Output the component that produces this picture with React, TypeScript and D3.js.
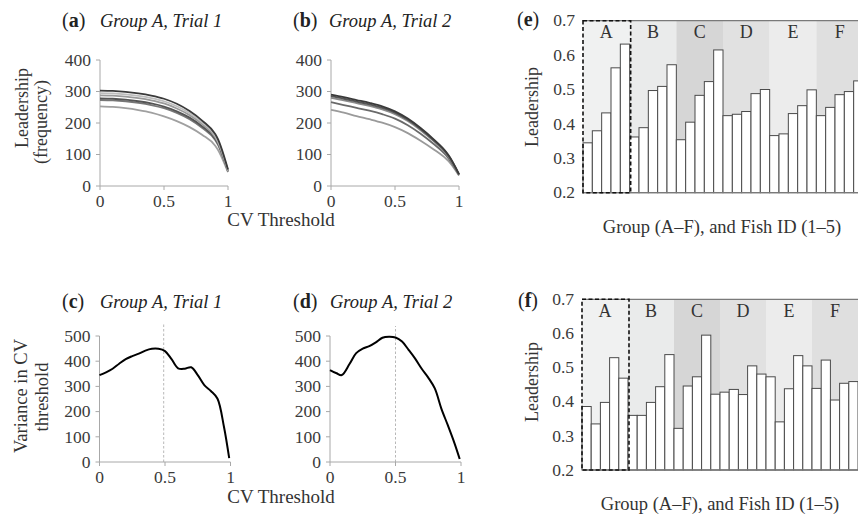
import React from 'react';
import * as d3 from 'd3';

const FONT = '"Liberation Serif", "Times New Roman", serif';

// ---------- Panels (a) & (b): leadership frequency vs CV threshold ----------
const cvT = [0, 0.1, 0.2, 0.3, 0.4, 0.5, 0.6, 0.7, 0.8, 0.9, 0.92, 1];
const a_f1 = [303, 302, 299, 294, 287, 277, 261, 238, 207, 165, 150, 52];
const a_f2 = [295, 294, 291, 286, 279, 269, 253, 231, 201, 160, 145, 50];
const a_f3 = [288, 287, 284, 279, 272, 262, 246, 225, 196, 155, 140, 48];
const a_f4 = [278, 277, 274, 269, 262, 252, 237, 217, 189, 150, 136, 48];
const a_f5 = [273, 272, 269, 264, 257, 247, 232, 212, 184, 146, 132, 46];
const a_f6 = [253, 251, 247, 241, 233, 221, 206, 187, 162, 128, 116, 44];
const b_f1 = [290, 282, 273, 264, 253, 237, 214, 184, 149, 108, 97, 38];
const b_f2 = [285, 277, 268, 259, 248, 233, 210, 181, 146, 106, 95, 37];
const b_f3 = [280, 272, 263, 254, 243, 228, 206, 177, 143, 103, 92, 36];
const b_f4 = [266, 257, 248, 239, 228, 214, 193, 166, 134, 97, 87, 35];
const b_f5 = [242, 233, 222, 212, 201, 187, 168, 144, 117, 86, 78, 33];
const lineColorsA = ['#3a3a3a', '#bdbdbd', '#9a9a9a', '#555555', '#777777', '#a0a0a0'];
const lineColorsB = ['#3a3a3a', '#555555', '#8a8a8a', '#6a6a6a', '#9a9a9a'];
const freqTicks = [0, 100, 200, 300, 400];
const cvTicks = [0, 0.5, 1];

// ---------- Panels (c) & (d): variance in CV threshold ----------
const c_t = [0, 0.05, 0.1, 0.15, 0.2, 0.25, 0.3, 0.35, 0.4, 0.45, 0.5, 0.55, 0.6, 0.65, 0.7, 0.75, 0.8, 0.85, 0.9, 0.95, 0.99];
const c_var = [345, 356, 370, 390, 408, 420, 430, 442, 449, 449, 440, 408, 372, 370, 376, 345, 305, 282, 252, 140, 15];
const d_t = [0, 0.05, 0.09, 0.15, 0.2, 0.25, 0.3, 0.35, 0.4, 0.45, 0.5, 0.55, 0.6, 0.65, 0.7, 0.75, 0.8, 0.85, 0.9, 0.95, 0.99];
const d_var = [365, 352, 345, 390, 432, 450, 460, 475, 493, 497, 494, 478, 445, 410, 370, 335, 292, 212, 145, 75, 12];
const varTicks = [0, 100, 200, 300, 400, 500];
const c_mark = 0.49;
const d_mark = 0.5;

// ---------- Panels (e) & (f): leadership per fish ----------
const groups = ['A', 'B', 'C', 'D', 'E', 'F'];
const fishIds = [1, 2, 3, 4, 5];
const groupShades = ['#f0f1f1', '#eaebeb', '#d6d6d6', '#e1e1e1', '#ececec', '#dfdfdf'];
const e_vals = [
  0.345, 0.380, 0.432, 0.563, 0.632,
  0.362, 0.389, 0.497, 0.509, 0.572,
  0.354, 0.405, 0.483, 0.523, 0.615,
  0.424, 0.428, 0.436, 0.488, 0.500,
  0.366, 0.371, 0.430, 0.453, 0.499,
  0.424, 0.448, 0.485, 0.494, 0.525,
];
const f_vals = [
  0.386, 0.335, 0.398, 0.529, 0.469,
  0.360, 0.360, 0.398, 0.444, 0.538,
  0.322, 0.446, 0.473, 0.595, 0.422,
  0.428, 0.436, 0.421, 0.505, 0.481,
  0.473, 0.341, 0.438, 0.535, 0.505,
  0.439, 0.522, 0.405, 0.454, 0.459,
];
const barTicks = [0.2, 0.3, 0.4, 0.5, 0.6, 0.7];

type Series = { t: number[]; v: number[]; color: string; width: number };

function LinePanel(props: {
  left: number; right: number; top: number; bottom: number;
  yMax: number; yTicks: number[]; series: Series[]; curve: any; mark?: number; markTop?: number;
}) {
  const { left, right, top, bottom, yMax, yTicks, series, curve, mark, markTop } = props;
  const x = d3.scaleLinear().domain([0, 1]).range([left, right]);
  const y = d3.scaleLinear().domain([0, yMax]).range([bottom, top]);
  const axisColor = '#a8a8a8';
  return (
    <g>
      {mark !== undefined && (
        <line x1={x(mark)} x2={x(mark)} y1={bottom} y2={markTop} stroke="#b0b0b0" strokeWidth={0.9} strokeDasharray="2.5,2" />
      )}
      <line x1={left} x2={left} y1={top} y2={bottom} stroke={axisColor} strokeWidth={1} />
      <line x1={left} x2={right} y1={bottom} y2={bottom} stroke={axisColor} strokeWidth={1} />
      {yTicks.map((t) => (
        <g key={'y' + t}>
          <line x1={left - 4} x2={left} y1={y(t)} y2={y(t)} stroke={axisColor} />
          <text x={left - 9} y={y(t)} dy="0.33em" textAnchor="end" fontSize={17.5} fill="#3a3a3a">{t}</text>
        </g>
      ))}
      {cvTicks.map((t) => (
        <g key={'x' + t}>
          <line x1={x(t)} x2={x(t)} y1={bottom} y2={bottom + 4} stroke={axisColor} />
          <text x={x(t)} y={bottom + 21} textAnchor="middle" fontSize={17.5} fill="#3a3a3a">{t}</text>
        </g>
      ))}
      {series.map((s, i) => {
        const pts: [number, number][] = s.t.map((t, j) => [t, s.v[j]]);
        const gen = d3.line<[number, number]>().x((d) => x(d[0])).y((d) => y(d[1])).curve(curve);
        return <path key={i} d={gen(pts) || ''} fill="none" stroke={s.color} strokeWidth={s.width} strokeLinejoin="round" />;
      })}
    </g>
  );
}

function BarPanel(props: { left: number; right: number; top: number; bottom: number; values: number[]; letterY: number }) {
  const { left, right, top, bottom, values, letterY } = props;
  const keys = groups.flatMap((g) => fishIds.map((f) => g + f));
  const x = d3.scaleBand<string>().domain(keys).range([left, right]).padding(0);
  const gx = d3.scaleBand<string>().domain(groups).range([left, right]).padding(0);
  const y = d3.scaleLinear().domain([0.2, 0.7]).range([bottom, top]);
  return (
    <g>
      {groups.map((g, i) => (
        <rect key={g} x={gx(g)} y={top} width={gx.bandwidth()} height={bottom - top} fill={groupShades[i]} />
      ))}
      {keys.map((k, i) => (
        <rect key={k} x={x(k)} y={y(values[i])} width={x.bandwidth()} height={bottom - y(values[i])}
          fill="#ffffff" stroke="#4a4a4a" strokeWidth={1} />
      ))}
      <line x1={left} x2={right + 20} y1={top} y2={top} stroke="#7a7a7a" strokeWidth={1.3} />
      <line x1={left} x2={right + 20} y1={bottom} y2={bottom} stroke="#7a7a7a" strokeWidth={1.3} />
      {groups.map((g) => (
        <text key={'l' + g} x={(gx(g) as number) + gx.bandwidth() / 2} y={letterY} textAnchor="middle" fontSize={18} fill="#333">{g}</text>
      ))}
      <rect x={left} y={top} width={gx.bandwidth() + 1} height={bottom - top} fill="none" stroke="#111" strokeWidth={1.6} strokeDasharray="4,2.5" />
      {barTicks.map((t) => (
        <text key={'t' + t} x={left - 8} y={y(t)} dy="0.33em" textAnchor="end" fontSize={17.5} fill="#3a3a3a">{t.toFixed(1)}</text>
      ))}
    </g>
  );
}

export default function App() {
  const seriesA: Series[] = [a_f6, a_f5, a_f4, a_f3, a_f2, a_f1].map((v, i, arr) => ({
    t: cvT, v, color: lineColorsA[arr.length - 1 - i], width: 1.8,
  }));
  const seriesB: Series[] = [b_f5, b_f4, b_f3, b_f2, b_f1].map((v, i, arr) => ({
    t: cvT, v, color: lineColorsB[arr.length - 1 - i], width: 1.8,
  }));
  const title = (x1: number, x2: number, y: number, letter: string, text: string) => (
    <g>
      <text x={x1} y={y} fontSize={20} fill="#222">(<tspan fontWeight="bold">{letter}</tspan>)</text>
      {text && <text x={x2} y={y} fontSize={18.5} fontStyle="italic" fill="#222">{text}</text>}
    </g>
  );
  const vlabel = (x: number, y: number, s: string, fs = 18) => (
    <text transform={`translate(${x},${y}) rotate(-90)`} textAnchor="middle" fontSize={fs} fill="#333">{s}</text>
  );
  return (
    <svg width={858} height={515} fontFamily={FONT} style={{ position: 'absolute', left: 0, top: 0, background: '#fff', fontFamily: FONT }}>
      {/* (a) */}
      {title(62, 100, 27, 'a', 'Group A, Trial 1')}
      <LinePanel left={100} right={228} top={60} bottom={186} yMax={400} yTicks={freqTicks} series={seriesA} curve={d3.curveMonotoneX} />
      {/* (b) */}
      {title(293, 329, 27, 'b', 'Group A, Trial 2')}
      <LinePanel left={331} right={459} top={60} bottom={186} yMax={400} yTicks={freqTicks} series={seriesB} curve={d3.curveMonotoneX} />
      {vlabel(28, 108, 'Leadership')}
      {vlabel(47, 122, '(frequency)')}
      <text x={281} y={226} textAnchor="middle" fontSize={19} fill="#333">CV Threshold</text>

      {/* (c) */}
      {title(62, 100, 308, 'c', 'Group A, Trial 1')}
      <LinePanel left={99.5} right={230.5} top={336} bottom={462} yMax={500} yTicks={varTicks}
        series={[{ t: c_t, v: c_var, color: '#000', width: 2 }]} curve={d3.curveCatmullRom.alpha(0.5)} mark={c_mark} markTop={324} />
      {/* (d) */}
      {title(293, 330, 308, 'd', 'Group A, Trial 2')}
      <LinePanel left={330} right={461} top={336} bottom={462} yMax={500} yTicks={varTicks}
        series={[{ t: d_t, v: d_var, color: '#000', width: 2 }]} curve={d3.curveCatmullRom.alpha(0.5)} mark={d_mark} markTop={326} />
      {vlabel(27, 396, 'Variance in CV', 18.5)}
      {vlabel(48, 397, 'threshold', 18.5)}
      <text x={281} y={503} textAnchor="middle" fontSize={19} fill="#333">CV Threshold</text>

      {/* (e) */}
      <text x={517} y={26} fontSize={20} fill="#222">(<tspan fontWeight="bold">e</tspan>)</text>
      <BarPanel left={583} right={863} top={20.7} bottom={192.7} values={e_vals} letterY={38} />
      {vlabel(538, 107, 'Leadership')}
      <text x={722} y={233} textAnchor="middle" fontSize={18.5} fill="#333">Group (A–F), and Fish ID (1–5)</text>

      {/* (f) */}
      <text x={518} y={307} fontSize={20} fill="#222">(<tspan fontWeight="bold">f</tspan>)</text>
      <BarPanel left={582} right={858} top={299.3} bottom={470} values={f_vals} letterY={317} />
      {vlabel(538, 382, 'Leadership')}
      <text x={720} y={510} textAnchor="middle" fontSize={18.5} fill="#333">Group (A–F), and Fish ID (1–5)</text>
    </svg>
  );
}
